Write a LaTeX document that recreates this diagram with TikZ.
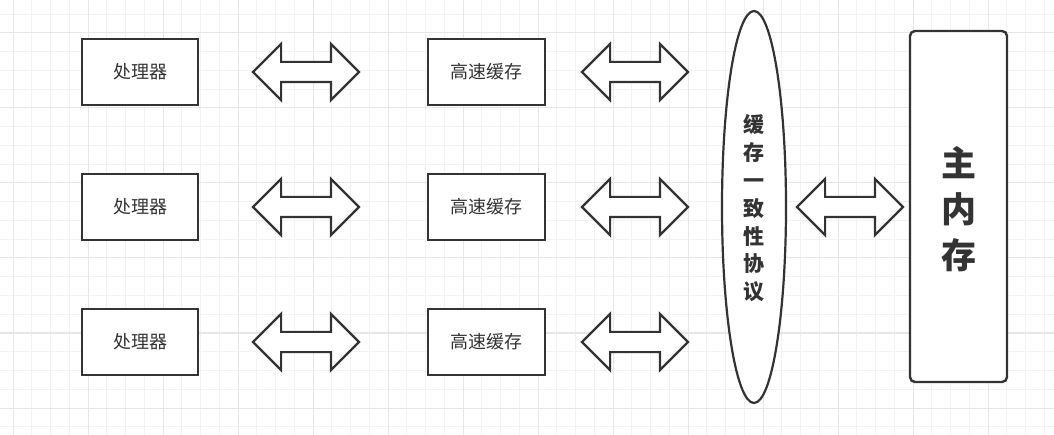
\documentclass[tikz,border=0pt]{standalone}
\usepackage{fontspec}
\newfontfamily\cjk{Noto Sans CJK SC}
\usetikzlibrary{shapes.geometric,shapes.arrows}
\definecolor{ink}{HTML}{333333}
\definecolor{gridminor}{HTML}{F2F2F2}
\definecolor{gridmajor}{HTML}{E6E6E6}
\tikzset{
  boxnode/.style={draw=ink, line width=2.4pt, minimum width=116pt, minimum height=66pt, inner sep=0pt, font=\cjk\fontsize{18}{20}\selectfont, text=ink, fill=white},
  dblarrow/.style={double arrow, draw=ink, line width=2.2pt, fill=white, inner xsep=0pt, inner ysep=9pt, minimum height=106pt, minimum width=54pt, double arrow head extend=18pt, double arrow tip angle=90},
}
\begin{document}
\begin{tikzpicture}[x=1pt,y=-1pt]
\useasboundingbox (0,0) rectangle (1054,435);
\fill[white] (0,0) rectangle (1054,435);
% grid
\foreach \i in {0,...,56}{
  \draw[gridminor, line width=1pt] ({13+18.75*\i},0) -- ({13+18.75*\i},435);
}
\foreach \i in {-1,...,22}{
  \draw[gridminor, line width=1pt] (0,{33+18.75*\i}) -- (1054,{33+18.75*\i});
}
\foreach \i in {0,...,14}{
  \draw[gridmajor, line width=1pt] ({13+75*\i},0) -- ({13+75*\i},435);
}
\foreach \i in {-1,...,6}{
  \draw[gridmajor, line width=1pt] (0,{33+75*\i}) -- (1054,{33+75*\i});
}
% processors and caches
\foreach \r/\y in {1/72,2/207,3/342}{
  \node[boxnode] (p\r) at (140,\y) {处理器};
  \node[dblarrow] (a\r) at (306,\y) {};
  \node[boxnode, minimum width=117pt] (c\r) at (486.5,\y) {高速缓存};
  \node[dblarrow] (b\r) at (635,\y) {};
}
% coherence protocol
\node[ellipse, draw=ink, line width=2.2pt, fill=white, minimum width=64pt, minimum height=392pt, inner sep=0pt] (coh) at (754,207) {};
\node[text=ink, font=\cjk\bfseries\fontsize{21}{27.8}\selectfont, align=center, inner sep=0pt] (cohtxt) at (754,208.5) {缓\\存\\一\\致\\性\\协\\议};
\node[dblarrow] (m) at (850,207) {};
% main memory
\node[draw=ink, line width=2.4pt, rounded corners=5pt, fill=white, minimum width=97pt, minimum height=351pt, inner sep=0pt] (mem) at (958.5,206.5) {};
\node[text=ink, font=\cjk\bfseries\fontsize{35}{46}\selectfont, align=center, inner sep=0pt] (memtxt) at (958.5,209) {主\\内\\存};
\end{tikzpicture}
\end{document}
